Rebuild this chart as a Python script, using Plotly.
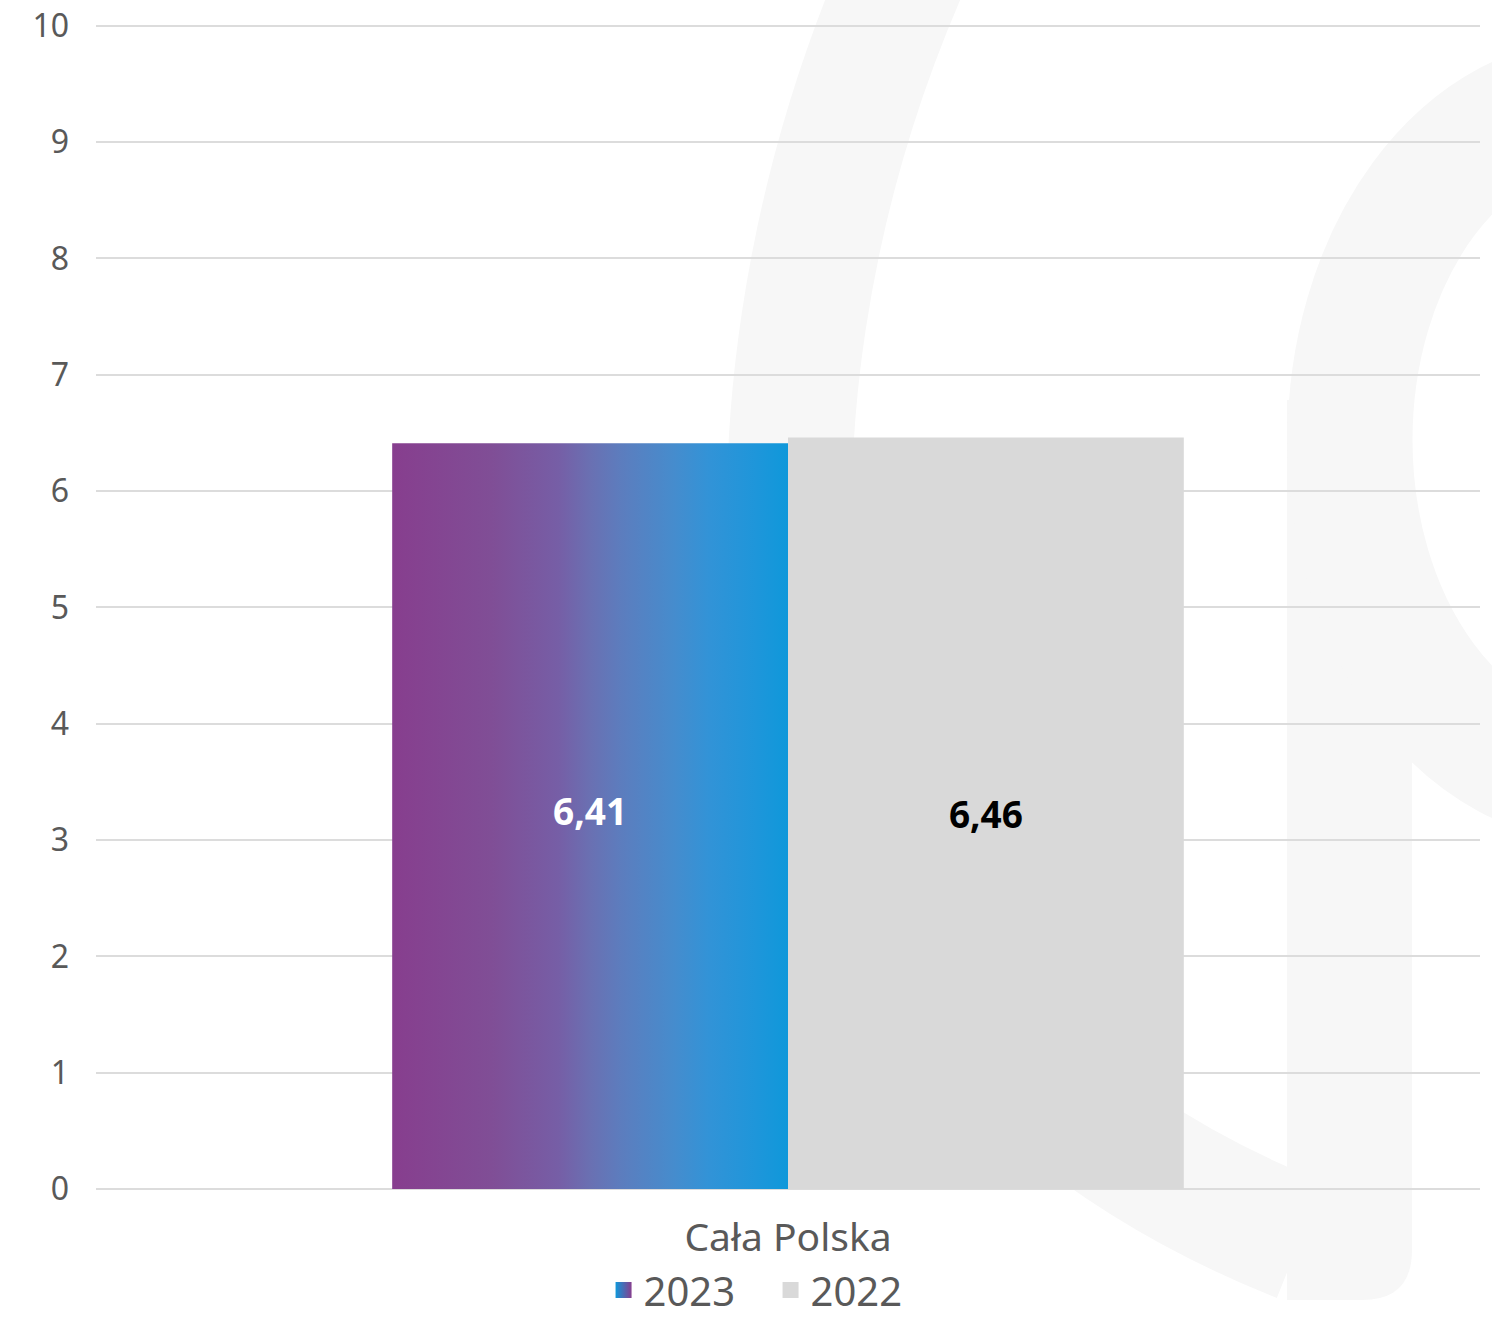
import plotly.graph_objects as go

# ---- data ----
categories = ["Cała Polska"]
years = ["2023", "2022"]
values_2023 = [6.41]
values_2022 = [6.46]
y_ticks = list(range(0, 11))

# ---- style ----
FONT = "Noto Sans"
TXT = "#595959"
GRID = "#dcdcdc"
C_GRAY = "#d9d9d9"
WM = "#f7f7f7"
GRADIENT = [[0, "#873e8e"], [0.25, "#804e96"], [0.42, "#765ea6"], [0.5, "#6a70b2"],
            [0.58, "#5c7dbe"], [0.71, "#468ccd"], [0.8, "#3293d7"],
            [0.92, "#1e96da"], [1, "#0f98da"]]

W, H = 1492, 1317
ML, MR, MT, MB = 96, 12, 24, 128
PW, PH = W - ML - MR, H - MT - MB

bargap = 0.428
bar_w = (1 - bargap) / 2
xpos = list(range(len(categories)))

def px(x):
    return (x - ML) / PW

def py(y):
    return (H - MB - y) / PH

fig = go.Figure()

# 2023 gradient bars (filled polygons drawn on data axes)
for i, v in zip(xpos, values_2023):
    x0, x1 = i - bar_w, i
    fig.add_trace(go.Scatter(
        x=[x0, x1, x1, x0, x0], y=[0, 0, v, v, 0],
        mode="lines", fill="toself", line=dict(width=0, color="#0f98da"),
        fillgradient=dict(type="horizontal", colorscale=GRADIENT),
        showlegend=False, hoverinfo="skip"))
fig.add_trace(go.Scatter(
    x=[i - bar_w / 2 for i in xpos], y=[v / 2 for v in values_2023],
    mode="text", text=[f"{v:.2f}".replace(".", ",") for v in values_2023],
    textfont=dict(family=FONT, size=37, color="white", weight=700),
    showlegend=False, hoverinfo="skip"))

# 2022 bars
fig.add_trace(go.Bar(
    x=xpos, y=values_2022, width=bar_w, offset=0,
    marker=dict(color=C_GRAY, line=dict(width=0)),
    texttemplate="%{y:.2f}", textposition="inside", insidetextanchor="middle",
    textfont=dict(family=FONT, size=37, color="black", weight=700),
    showlegend=False, hoverinfo="skip"))

# legend entries
fig.add_trace(go.Scatter(
    x=[None], y=[None], mode="markers", name=years[0],
    marker=dict(symbol="square", size=16, color="#0f98da",
                gradient=dict(type="horizontal", color="#873e8e")),
    legendrank=1))
fig.add_trace(go.Scatter(
    x=[None], y=[None], mode="markers", name=years[1],
    marker=dict(symbol="square", size=16, color=C_GRAY),
    legendrank=2))

# watermark (decorative background logo)
shapes = []
p = [(905, -30), (805, 200), (770, 450), (800, 650),
     (840, 900), (1000, 1120), (1300, 1240)]
d = (f"M {px(p[0][0])},{py(p[0][1])} "
     f"C {px(p[1][0])},{py(p[1][1])} {px(p[2][0])},{py(p[2][1])} {px(p[3][0])},{py(p[3][1])} "
     f"C {px(p[4][0])},{py(p[4][1])} {px(p[5][0])},{py(p[5][1])} {px(p[6][0])},{py(p[6][1])}")
shapes.append(dict(type="path", xref="paper", yref="paper", path=d,
                   line=dict(color=WM, width=125), layer="below"))
s = [(1287, 400), (1412, 400), (1412, 1250), (1412, 1300), (1362, 1300), (1287, 1300)]
d2 = (f"M {px(s[0][0])},{py(s[0][1])} L {px(s[1][0])},{py(s[1][1])} "
      f"L {px(s[2][0])},{py(s[2][1])} Q {px(s[3][0])},{py(s[3][1])} {px(s[4][0])},{py(s[4][1])} "
      f"L {px(s[5][0])},{py(s[5][1])} Z")
shapes.append(dict(type="path", xref="paper", yref="paper", path=d2,
                   fillcolor=WM, line=dict(width=0), layer="below"))
shapes.append(dict(type="circle", xref="paper", yref="paper",
                   x0=px(1350), x1=px(1850), y0=py(100), y1=py(780),
                   line=dict(color=WM, width=125), layer="below"))

fig.update_layout(
    width=W, height=H,
    margin=dict(l=ML, r=MR, t=MT, b=MB, autoexpand=False),
    paper_bgcolor="white", plot_bgcolor="rgba(0,0,0,0)",
    separators=", ",
    font=dict(family=FONT, color=TXT),
    shapes=shapes,
    showlegend=True,
    legend=dict(orientation="h", x=0.4874, xanchor="center", y=py(1290), yanchor="middle",
                font=dict(family=FONT, size=40, color=TXT),
                itemwidth=30, entrywidth=122, entrywidthmode="pixels",
                tracegroupgap=0, traceorder="normal"),
    xaxis=dict(range=[-0.5, 0.5], tickvals=xpos, ticktext=categories,
               showgrid=False, zeroline=False, showline=False, automargin=False,
               ticks="outside", ticklen=14, tickcolor="rgba(0,0,0,0)",
               tickfont=dict(family=FONT, size=39, color=TXT), fixedrange=True),
    yaxis=dict(range=[0, 10.015], tickvals=y_ticks, showgrid=True, gridcolor=GRID,
               gridwidth=2, zeroline=True, zerolinecolor=GRID, zerolinewidth=2,
               showline=False, automargin=False,
               ticklabelstandoff=26,
               tickfont=dict(family=FONT, size=32, color=TXT), fixedrange=True),
)

fig.write_html("out.html")
